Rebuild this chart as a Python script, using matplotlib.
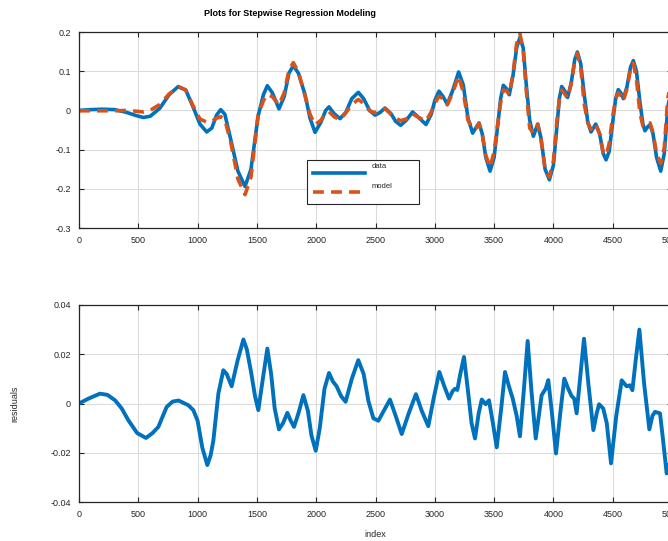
import matplotlib
matplotlib.use("Agg")
import matplotlib.pyplot as plt
from matplotlib.ticker import FormatStrFormatter
from matplotlib.patches import Rectangle
from matplotlib.lines import Line2D

plt.rcParams['font.family'] = ['Liberation Sans', 'DejaVu Sans']
plt.rcParams['axes.unicode_minus'] = False

BLUE = '#0072BD'
ORANGE = '#D95319'

# sample index of the fitted signal
top_idx = [0, 100, 200, 300, 400, 480, 542, 600, 680, 760, 837, 900, 960, 1020,
           1077, 1120, 1160, 1195, 1230, 1280, 1340, 1400, 1450, 1510, 1555, 1588,
           1630, 1686, 1730, 1770, 1807, 1850, 1906, 1948, 1990, 2040, 2080, 2108,
           2150, 2201, 2250, 2300, 2355, 2400, 2450, 2496, 2540, 2580, 2630, 2670,
           2712, 2760, 2813, 2870, 2926, 2970, 3000, 3035, 3070, 3105, 3150, 3201,
           3240, 3280, 3319, 3345, 3373, 3400, 3430, 3466, 3500, 3530, 3555, 3578,
           3605, 3628, 3660, 3690, 3718, 3745, 3770, 3800, 3831, 3850, 3868, 3895,
           3930, 3966, 4000, 4030, 4050, 4070, 4095, 4120, 4150, 4180, 4202, 4230,
           4260, 4290, 4317, 4337, 4357, 4390, 4420, 4444, 4470, 4500, 4525, 4547,
           4568, 4590, 4620, 4650, 4674, 4700, 4730, 4755, 4772, 4795, 4815, 4840,
           4870, 4905, 4935, 4964, 5000]

data_val = [0.000, 0.002, 0.003, 0.002, -0.005, -0.013, -0.018, -0.015, 0.005, 0.040,
            0.061, 0.052, 0.010, -0.035, -0.055, -0.045, -0.012, 0.002, -0.010, -0.075,
            -0.155, -0.194, -0.150, -0.015, 0.040, 0.063, 0.045, 0.004, 0.035, 0.095,
            0.114, 0.095, 0.040, -0.020, -0.056, -0.030, 0.000, 0.009, -0.008, -0.021,
            -0.005, 0.030, 0.046, 0.030, 0.000, -0.012, -0.005, 0.006, -0.008, -0.028,
            -0.038, -0.025, -0.004, -0.020, -0.036, -0.010, 0.025, 0.049, 0.035, 0.016,
            0.050, 0.098, 0.065, -0.020, -0.058, -0.045, -0.032, -0.060, -0.120, -0.155,
            -0.120, -0.040, 0.030, 0.064, 0.055, 0.040, 0.090, 0.160, 0.186, 0.160,
            0.070, -0.025, -0.066, -0.050, -0.035, -0.070, -0.150, -0.177, -0.140, -0.040,
            0.030, 0.061, 0.050, 0.033, 0.070, 0.130, 0.149, 0.120, 0.040, -0.030,
            -0.055, -0.045, -0.035, -0.060, -0.110, -0.126, -0.105, -0.030, 0.030, 0.053,
            0.045, 0.030, 0.060, 0.110, 0.127, 0.100, 0.020, -0.035, -0.052, -0.042,
            -0.036, -0.060, -0.120, -0.155, -0.110, 0.006, 0.070]

model_val = [-0.001, -0.001, -0.001, -0.001, 0.000, -0.002, -0.004, 0.000, 0.015, 0.042,
             0.060, 0.052, 0.013, -0.022, -0.030, -0.028, -0.020, -0.016, -0.024, -0.082,
             -0.175, -0.215, -0.170, -0.012, 0.025, 0.041, 0.035, 0.014, 0.045, 0.102,
             0.122, 0.098, 0.037, -0.010, -0.037, -0.025, -0.008, -0.003, -0.016, -0.024,
             -0.006, 0.015, 0.028, 0.018, -0.001, -0.006, 0.000, 0.005, -0.010, -0.020,
             -0.026, -0.022, -0.009, -0.019, -0.027, -0.004, 0.018, 0.036, 0.030, 0.014,
             0.044, 0.088, 0.046, -0.025, -0.046, -0.047, -0.034, -0.060, -0.115, -0.145,
             -0.105, -0.035, 0.020, 0.052, 0.050, 0.040, 0.095, 0.170, 0.195, 0.155,
             0.055, -0.045, -0.058, -0.048, -0.035, -0.072, -0.150, -0.170, -0.130, -0.025,
             0.028, 0.052, 0.042, 0.031, 0.068, 0.125, 0.145, 0.110, 0.016, -0.032,
             -0.048, -0.035, -0.035, -0.060, -0.108, -0.115, -0.085, -0.015, 0.030, 0.045,
             0.038, 0.024, 0.055, 0.105, 0.120, 0.080, -0.008, -0.040, -0.042, -0.035,
             -0.032, -0.057, -0.110, -0.135, -0.095, 0.030, 0.085]

res_idx = [0, 80, 177, 240, 304, 360, 416, 490, 565, 620, 669, 739, 790, 840, 922, 964,
           1000, 1040, 1082, 1110, 1133, 1175, 1217, 1245, 1287, 1338, 1386, 1415, 1450,
           1484, 1512, 1550, 1588, 1620, 1650, 1686, 1720, 1757, 1785, 1813, 1850, 1892,
           1930, 1960, 1996, 2030, 2070, 2108, 2140, 2172, 2210, 2248, 2300, 2355, 2400,
           2440, 2482, 2524, 2570, 2622, 2670, 2721, 2780, 2841, 2890, 2945, 2990, 3038,
           3080, 3120, 3150, 3170, 3190, 3215, 3246, 3280, 3310, 3339, 3370, 3396, 3429,
           3457, 3490, 3522, 3560, 3592, 3625, 3657, 3690, 3718, 3750, 3783, 3815, 3851,
           3880, 3901, 3935, 3957, 3990, 4022, 4060, 4092, 4125, 4154, 4175, 4196, 4225,
           4258, 4295, 4337, 4365, 4385, 4420, 4450, 4486, 4530, 4576, 4617, 4645, 4666,
           4695, 4725, 4765, 4809, 4835, 4857, 4899, 4925, 4955, 5000]

res_val = [0.000, 0.002, 0.004, 0.0035, 0.0013, -0.002, -0.0068, -0.012, -0.014, -0.012,
           -0.0095, -0.0014, 0.0008, 0.0012, -0.0007, -0.0027, -0.007, -0.018, -0.025,
           -0.021, -0.015, 0.004, 0.0135, 0.012, 0.007, 0.0176, 0.026, 0.022, 0.013,
           0.003, -0.0027, 0.010, 0.0223, 0.012, -0.002, -0.0105, -0.008, -0.0038, -0.007,
           -0.0095, -0.004, 0.0034, -0.003, -0.013, -0.0192, -0.010, 0.006, 0.0124, 0.009,
           0.007, 0.003, 0.0007, 0.010, 0.0176, 0.012, 0.001, -0.006, -0.007, -0.003,
           0.0016, -0.005, -0.0124, -0.004, 0.0038, -0.003, -0.0092, 0.002, 0.0128, 0.007,
           0.002, 0.005, 0.006, 0.0055, 0.012, 0.0189, 0.005, -0.008, -0.0142, -0.004,
           0.0016, -0.0003, 0.0013, -0.008, -0.0178, -0.002, 0.0128, 0.007, 0.002, -0.005,
           -0.0133, 0.005, 0.0254, 0.005, -0.0142, -0.004, 0.0034, 0.006, 0.0095, -0.005,
           -0.0203, -0.003, 0.0101, 0.006, 0.003, 0.002, -0.004, 0.010, 0.0263, 0.008,
           -0.0108, -0.004, -0.0003, -0.002, -0.008, -0.0243, -0.005, 0.0094, 0.007,
           0.0074, 0.0054, 0.018, 0.030, 0.008, -0.0105, -0.005, -0.0034, -0.004, -0.015,
           -0.0284, -0.020]

W, H = 668, 541
fig = plt.figure(figsize=(W / 100, H / 100), dpi=100)

# axes run from x=79px to 672px (slightly past the right edge of the figure)
left = 79 / W
width = (672 - 79) / W
ax1 = fig.add_axes([left, (H - 228) / H, width, (228 - 32) / H])
ax2 = fig.add_axes([left, (H - 502) / H, width, (502 - 305) / H])


def style(ax):
    ax.set_xlim(0, 5000)
    ax.set_xticks(range(0, 5001, 500))
    ax.grid(True, color='#dcdcdc', linewidth=0.8)
    ax.set_axisbelow(True)
    ax.tick_params(direction='in', length=3.5, width=0.8, top=True, right=True,
                   labelsize=6.5, colors='#262626', pad=6)
    for s in ax.spines.values():
        s.set_color('#262626')
        s.set_linewidth(0.9)
    ax.yaxis.set_major_formatter(FormatStrFormatter('%g'))


ax1.plot(top_idx, data_val, color=BLUE, linewidth=2.6,
         solid_joinstyle='round', solid_capstyle='round')
ax1.plot(top_idx, model_val, color=ORANGE, linewidth=2.6, linestyle=(0, (3, 2)))
style(ax1)
ax1.set_ylim(-0.3, 0.2)
ax1.set_yticks([-0.3, -0.2, -0.1, 0, 0.1, 0.2])

# boxed legend
lx0, ly0, lw, lh = 0.3845, 0.122, 0.189, 0.225
ax1.add_patch(Rectangle((lx0, ly0), lw, lh, transform=ax1.transAxes,
                        facecolor='white', edgecolor='#262626', linewidth=0.8, zorder=5))
ax1.add_line(Line2D([0.395, 0.482], [0.281, 0.281], transform=ax1.transAxes,
                    color=BLUE, linewidth=2.6, zorder=6))
ax1.add_line(Line2D([0.395, 0.482], [0.184, 0.184], transform=ax1.transAxes,
                    color=ORANGE, linewidth=2.6, linestyle=(0, (3, 2)), zorder=6))
ax1.text(0.494, 0.316, 'data', transform=ax1.transAxes, fontsize=5.5,
         va='center', ha='left', color='#262626', zorder=7)
ax1.text(0.494, 0.214, 'model', transform=ax1.transAxes, fontsize=5.5,
         va='center', ha='left', color='#262626', zorder=7)

ax2.plot(res_idx, res_val, color=BLUE, linewidth=2.8,
         solid_joinstyle='round', solid_capstyle='round')
style(ax2)
ax2.set_ylim(-0.04, 0.04)
ax2.set_yticks([-0.04, -0.02, 0, 0.02, 0.04])
ax2.set_ylabel('residuals', fontsize=6.5, color='#262626', labelpad=22)
ax2.set_xlabel('index', fontsize=6.5, color='#262626', labelpad=8)

fig.text(290 / W, 1 - 13 / H, 'Plots for Stepwise Regression Modeling',
         fontsize=6.5, fontweight='bold', ha='center', va='center')

fig.savefig('out.png', dpi=100)
